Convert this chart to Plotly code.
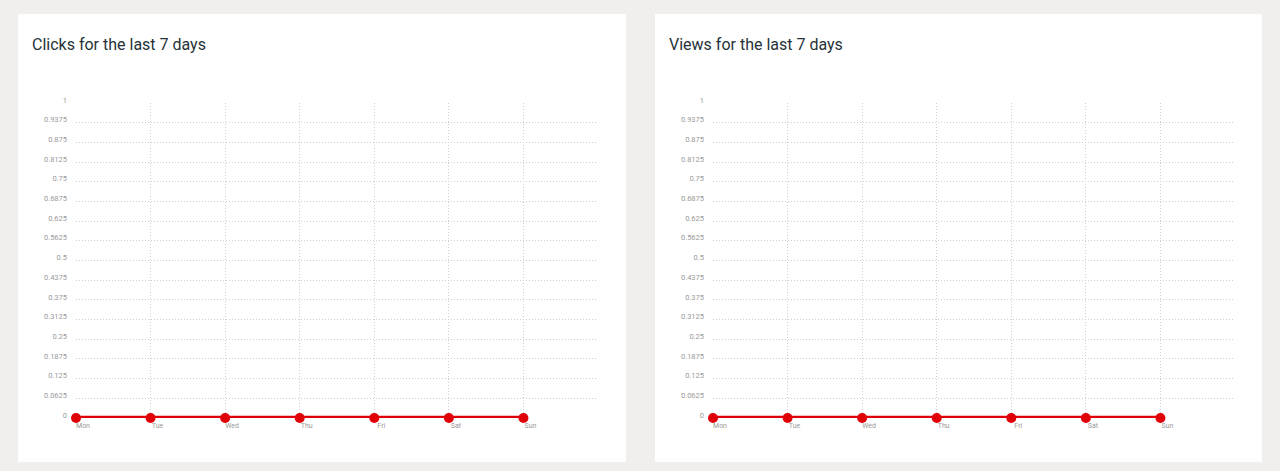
import plotly.graph_objects as go

days = ["Mon", "Tue", "Wed", "Thu", "Fri", "Sat", "Sun"]
clicks = [0, 0, 0, 0, 0, 0, 0]
views = [0, 0, 0, 0, 0, 0, 0]
titles = ["Clicks for the last 7 days", "Views for the last 7 days"]
y_ticks = [i / 16 for i in range(17)]
y_tick_text = [("%g" % v) for v in y_ticks]

W, H = 1280, 471
RED = "#e00008"
GRID = "#cfcfcf"
TICKC = "#999999"

fig = go.Figure()

series = [clicks, views]
xdoms = [(76 / W, 598 / W), (713 / W, 1235 / W)]
ydom = (1 - 418 / H, 1 - 103 / H)

for i, vals in enumerate(series):
    xa = "x" if i == 0 else "x2"
    ya = "y" if i == 0 else "y2"
    fig.add_trace(go.Scatter(
        x=list(range(len(days))), y=vals, xaxis=xa, yaxis=ya,
        mode="lines+markers",
        line=dict(color=RED, width=4.5),
        marker=dict(color=RED, size=10),
        hoverinfo="skip", showlegend=False, cliponaxis=False,
    ))
    axx = dict(
        domain=list(xdoms[i]), range=[0, 7], anchor=ya,
        tickvals=list(range(len(days))), ticktext=days,
        showgrid=True, gridcolor=GRID, griddash="1px,2px", gridwidth=1,
        zeroline=False, showline=False, ticks="", automargin=False,
        tickfont=dict(family="Roboto", size=7, color=TICKC),
        ticklabelshift=7, ticklabelstandoff=2,
    )
    axy = dict(
        domain=list(ydom), range=[0, 1], anchor=xa,
        tickvals=y_ticks, ticktext=y_tick_text,
        showgrid=True, gridcolor=GRID, griddash="1px,2px", gridwidth=1,
        zeroline=False, showline=False, ticks="", automargin=False,
        tickfont=dict(family="Roboto", size=7.5, color=TICKC),
        ticklabelstandoff=8, ticklabelshift=-3,
    )
    if i == 0:
        fig.update_layout(xaxis=axx, yaxis=axy)
    else:
        fig.update_layout(xaxis2=axx, yaxis2=axy)

cards = [(18, 626), (655, 1262)]
shapes = []
annotations = []
for i, (x0, x1) in enumerate(cards):
    shapes.append(dict(type="rect", xref="paper", yref="paper",
                       x0=x0 / W, x1=x1 / W, y0=1 - 462 / H, y1=1 - 14 / H,
                       fillcolor="white", line=dict(width=0), layer="below"))
    annotations.append(dict(text=titles[i], xref="paper", yref="paper",
                            x=(x0 + 12) / W, y=1 - 45 / H, xanchor="left", yanchor="middle",
                            showarrow=False,
                            font=dict(family="Roboto", size=16, color="#263238")))

fig.update_layout(
    width=W, height=H,
    margin=dict(l=0, r=0, t=0, b=0, autoexpand=False),
    paper_bgcolor="#f0efed", plot_bgcolor="rgba(0,0,0,0)",
    shapes=shapes, annotations=annotations,
    font=dict(family="Roboto"),
)

fig.write_html(
    "out.html",
    config={"displayModeBar": False},
    post_script="document.body.style.margin='0';document.body.style.overflow='hidden';document.body.style.background='#f0efed';",
)
